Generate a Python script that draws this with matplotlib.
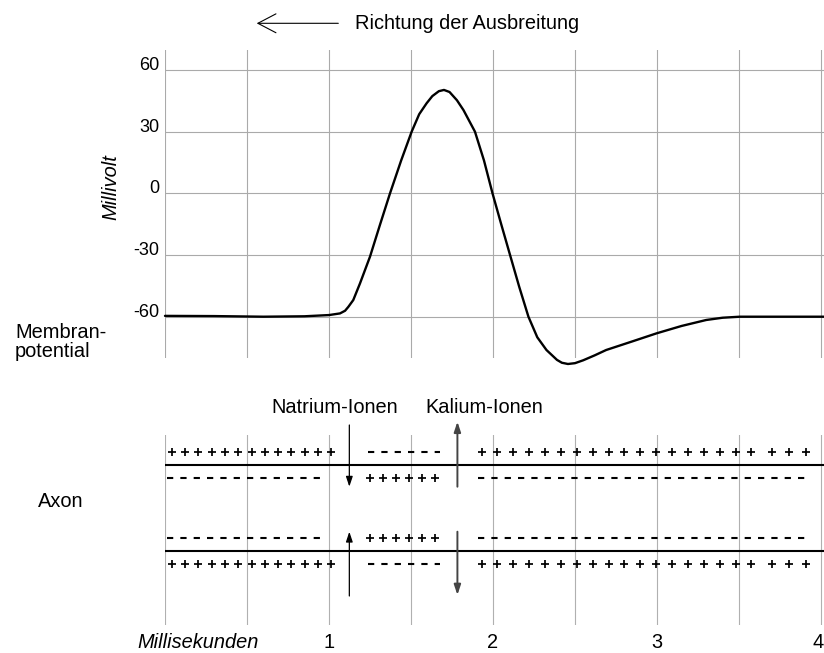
import numpy as np
import matplotlib
matplotlib.use('Agg')
import matplotlib.pyplot as plt

plt.rcParams['font.family'] = ['Liberation Sans', 'DejaVu Sans']

# Aktionspotential
time_ms = [0.0, 0.3, 0.6, 0.85, 1.0, 1.067, 1.098, 1.118, 1.148, 1.189, 1.25, 1.31,
           1.372, 1.44, 1.504, 1.55, 1.595, 1.63, 1.67, 1.701, 1.735, 1.78, 1.82,
           1.89, 1.945, 1.997, 2.05, 2.104, 2.16, 2.216, 2.27, 2.326, 2.39, 2.42,
           2.457, 2.50, 2.55, 2.62, 2.69, 2.85, 2.997, 3.15, 3.30, 3.40, 3.506,
           3.75, 4.02]
potential_mv = [-59.6, -59.7, -60.0, -59.8, -59.2, -58.4, -57.1, -55.2, -51.9, -43.8,
                -30.8, -15.5, 0.0, 16.0, 30.0, 38.5, 43.8, 47.3, 49.7, 50.3, 49.3,
                45.3, 40.5, 30.0, 16.0, 0.0, -15.0, -30.0, -45.5, -60.0, -70.0,
                -76.2, -81.0, -82.4, -83.0, -82.6, -81.2, -78.8, -76.2, -72.0, -68.1,
                -64.5, -61.6, -60.5, -60.0, -60.0, -60.0]

y_ticks = [-60, -30, 0, 30, 60]
y_tick_labels = ['-60', '-30', '0', '30', '60']
x_ticks = [1, 2, 3, 4]
x_tick_labels = ['1', '2', '3', '4']
grid_x = np.arange(0, 4.01, 0.5)

# Axon: charge zones along the membrane (ms), sign of the outside charge
zone_outer = ['+', '-', '+']
zone_plus = [[(0.04, 1.015, 13)], [(1.25, 1.646, 6)], [(1.93, 3.576, 18), (3.703, 3.906, 3)]]
zone_minus = [(0.01, 0.985), (1.238, 1.677), (1.91, 3.925)]
natrium_x = 1.124
kalium_x = 1.783

W, H = 824, 653
fig = plt.figure(figsize=(W / 100, H / 100), dpi=100)


def fx(px):
    return px / W


def fy(py):
    return 1 - py / H


x_max = (W - 165) / 164.0

# --- upper panel: membrane potential
ax = fig.add_axes([fx(165), fy(358), (W - 165) / W, (358 - 50) / H])
ax.plot(time_ms, potential_mv, color='black', lw=1.7, clip_on=False, zorder=3,
        solid_capstyle='round', solid_joinstyle='round')
ax.set_xlim(0, x_max)
ax.set_ylim(-60 - (358 - 316.7) / 2.056, 60 + 20 / 2.056)
ax.set_xticks(grid_x)
ax.set_xticklabels([])
ax.set_yticks(y_ticks)
ax.set_yticklabels(y_tick_labels, fontsize=13)
for lbl in ax.get_yticklabels():
    lbl.set_va('baseline')
ax.tick_params(length=0, pad=4.0)
ax.grid(True, color='#aaaaaa', lw=0.8)
for s in ax.spines.values():
    s.set_visible(False)

# --- lower panel: axon
bx = fig.add_axes([fx(165), fy(625), (W - 165) / W, (625 - 435) / H])
bx.set_xlim(0, x_max)
bx.set_ylim(625, 435)
bx.set_xticks(grid_x)
bx.set_xticklabels([])
bx.set_yticks([])
bx.tick_params(length=0)
bx.grid(True, axis='x', color='#b0b0b0', lw=0.8)
for s in bx.spines.values():
    s.set_visible(False)
for xt, lab in zip(x_ticks, x_tick_labels):
    shift = 3 / 164.0 if xt == x_ticks[-1] else 0
    bx.text(xt - shift, 648.5, lab, fontsize=14.4, ha='center', va='baseline')

membranes = [(465, -1), (551, 1)]  # y, direction of the outside
for y_mem, out_dir in membranes:
    bx.plot([0, x_max], [y_mem, y_mem], color='black', lw=1.5, zorder=3)
    for sign, plus_rows, (m0, m1) in zip(zone_outer, zone_plus, zone_minus):
        plus_side = out_dir if sign == '+' else -out_dir
        y_plus = y_mem + plus_side * 13
        y_minus = y_mem - plus_side * 13
        for p0, p1, n in plus_rows:
            bx.plot(np.linspace(p0, p1, n), [y_plus] * n, ls='none', marker='+',
                    ms=6.2, mew=1.25, color='black', zorder=3)
        bx.plot([m0, m1], [y_minus, y_minus], color='black', lw=1.5,
                ls=(0, (3.0, 3.4)), zorder=3)

# ion arrows
arrow_kw = dict(xycoords='data', textcoords='data', annotation_clip=False)
bx.annotate('', xy=(natrium_x, 486.7), xytext=(natrium_x, 425),
            arrowprops=dict(arrowstyle='-|>,head_length=0.6,head_width=0.2',
                            color='black', lw=0.9, shrinkA=0, shrinkB=0), **arrow_kw)
bx.annotate('', xy=(natrium_x, 531.7), xytext=(natrium_x, 596),
            arrowprops=dict(arrowstyle='-|>,head_length=0.6,head_width=0.2',
                            color='black', lw=0.9, shrinkA=0, shrinkB=0), **arrow_kw)
bx.annotate('', xy=(kalium_x, 421.7), xytext=(kalium_x, 486.7),
            arrowprops=dict(arrowstyle='-|>,head_length=0.6,head_width=0.2',
                            color='#444444', lw=1.4, shrinkA=0, shrinkB=0), **arrow_kw)
bx.annotate('', xy=(kalium_x, 595), xytext=(kalium_x, 531.7),
            arrowprops=dict(arrowstyle='-|>,head_length=0.6,head_width=0.2',
                            color='#444444', lw=1.4, shrinkA=0, shrinkB=0), **arrow_kw)

# --- texts
fig.text(fx(355), fy(29.3), 'Richtung der Ausbreitung', fontsize=14.4, va='baseline')
fig.add_artist(matplotlib.patches.FancyArrowPatch(
    (fx(338.3), fy(23.3)), (fx(256.7), fy(23.3)), transform=fig.transFigure,
    arrowstyle='->,head_length=1.3,head_width=0.68', mutation_scale=10,
    color='black', lw=0.8, shrinkA=0, shrinkB=0))
fig.text(fx(111), fy(187), 'Millivolt', fontsize=14.4, style='italic', rotation=90,
         ha='center', va='center')
fig.text(fx(15), fy(357.3), 'Membran-\npotential', fontsize=14.4, va='baseline',
         linespacing=1.05)
fig.text(fx(38), fy(501.7), 'Axon', fontsize=14.4, va='center')
fig.text(fx(335), fy(413.3), 'Natrium-Ionen', fontsize=14.4, ha='center', va='baseline')
fig.text(fx(484.3), fy(413.3), 'Kalium-Ionen', fontsize=14.4, ha='center', va='baseline')
fig.text(fx(137), fy(648.5), 'Millisekunden', fontsize=14.4, style='italic', va='baseline')

fig.savefig('out.png', dpi=100)
